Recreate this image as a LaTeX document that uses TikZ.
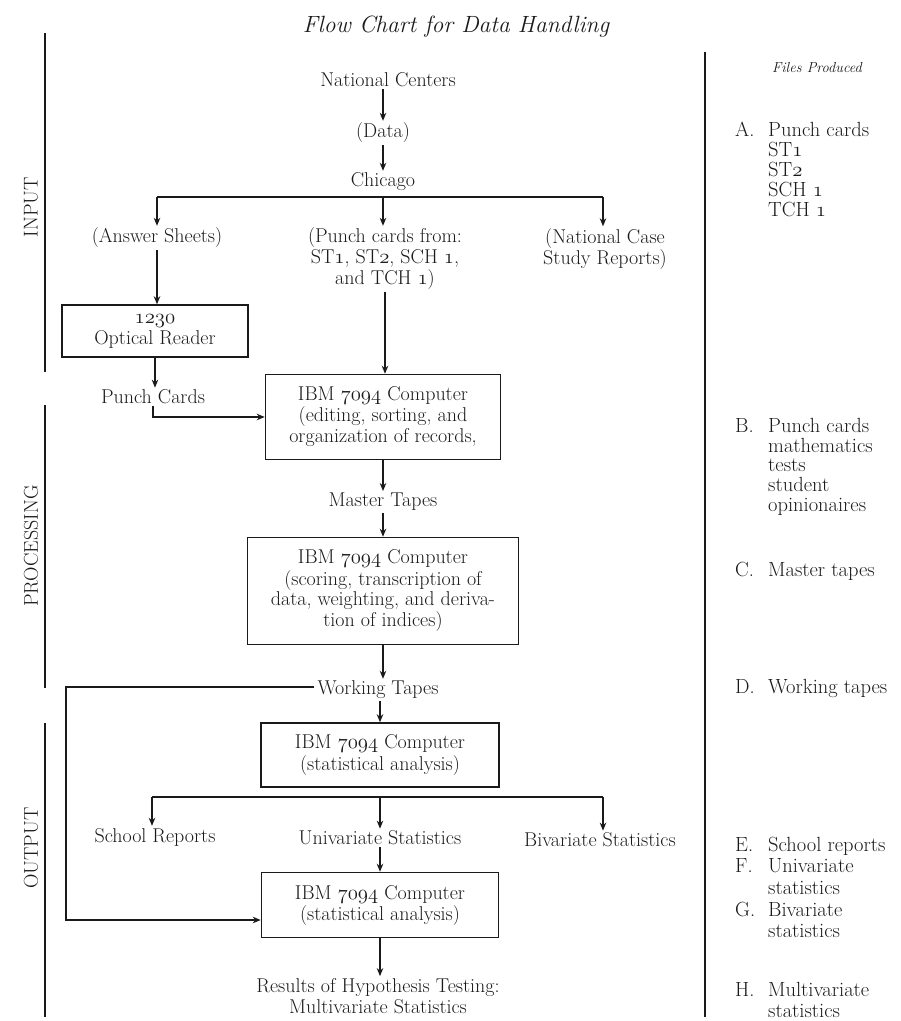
\documentclass[tikz,border=0pt]{standalone}
\usetikzlibrary{arrows.meta}
\definecolor{ink}{HTML}{1A1A1A}
\newcommand\osn[1]{$\mathnormal{#1}$}
\begin{document}
\begin{tikzpicture}[x=1pt,y=-1pt,
  every node/.style={text=ink},
  txt/.style={font=\fontsize{20}{21}\selectfont, align=center, inner sep=2pt},
  boxn/.style={txt, draw=ink, line width=1.5pt, inner sep=0pt},
  arr/.style={draw=ink, line width=1.2pt, -{Stealth[length=8pt,width=6.5pt,inset=2.5pt]}},
  rule/.style={draw=ink, line width=1.6pt},
  sidelbl/.style={font=\fontsize{20}{21}\selectfont, rotate=90, inner sep=0pt},
  files/.style={anchor=base west, inner sep=0pt}
]
\useasboundingbox (0,0) rectangle (901,1021);

% title and headings
\node[font=\itshape\fontsize{23.5}{25}\selectfont] (title) at (456,27) {Flow Chart for Data Handling};
\node[font=\itshape\fontsize{14.5}{16}\selectfont] (fp) at (817,68) {Files Produced};

% side rules and labels
\draw[rule] (45,33) -- (45,372);
\draw[rule] (45,405) -- (45,688);
\draw[rule] (45,723) -- (45,1017);
\draw[rule] (705,52) -- (705,1017);
\node[sidelbl] (inp) at (31,207) {INPUT};
\node[sidelbl] (proc) at (31,546) {PROCESSING};
\node[sidelbl] (outp) at (31,848) {OUTPUT};

% right column
\node[files, font=\fontsize{20.5}{19.5}\selectfont] (fa) at (735,136) {\begin{tabular}[t]{@{}p{33pt}@{}l@{}}A. & Punch cards\\ & ST\osn{1}\\ & ST\osn{2}\\ & SCH \osn{1}\\ & TCH \osn{1}\end{tabular}};
\node[files, font=\fontsize{20.5}{19.5}\selectfont] (fb) at (735,432) {\begin{tabular}[t]{@{}p{33pt}@{}l@{}}B. & Punch cards\\ & mathematics\\ & tests\\ & student\\ & opinionaires\end{tabular}};
\node[files, font=\fontsize{20.5}{20}\selectfont] (fc) at (735,576) {\begin{tabular}[t]{@{}p{33pt}@{}l@{}}C. & Master tapes\end{tabular}};
\node[files, font=\fontsize{20.5}{20}\selectfont] (fd) at (735,693) {\begin{tabular}[t]{@{}p{33pt}@{}l@{}}D. & Working tapes\end{tabular}};
\node[files, font=\fontsize{20.5}{21.7}\selectfont] (fe) at (735,851) {\begin{tabular}[t]{@{}p{33pt}@{}l@{}}E. & School reports\\ F. & Univariate\\ & statistics\\ G. & Bivariate\\ & statistics\end{tabular}};
\node[files, font=\fontsize{20.5}{21}\selectfont] (fh) at (735,996) {\begin{tabular}[t]{@{}p{33pt}@{}l@{}}H. & Multivariate\\ & statistics\end{tabular}};

% flow nodes
\node[txt] (nc) at (388,80) {National Centers};
\node[txt] (data) at (383,133) {(Data)};
\node[txt] (chi) at (383,182) {Chicago};
\coordinate (brL) at (157,197);
\coordinate (brM) at (383,197);
\coordinate (brR) at (603,197);
\node[txt] (ans) at (157,238) {(Answer Sheets)};
\node[txt] (pcf) at (385,259) {(Punch cards from:\\ ST\osn{1}, ST\osn{2}, SCH \osn{1},\\ and TCH \osn{1})};
\node[txt] (ncs) at (605,249) {(National Case\\ Study Reports)};
\node[boxn, minimum width=186pt, minimum height=52pt] (opt) at (155,331) {\osn{1230}\\ Optical Reader};
\node[txt] (pc) at (153,397) {Punch Cards};
\node[boxn, minimum width=235pt, minimum height=85pt] (cmp1) at (383,417) {IBM \osn{7094} Computer\\ (editing, sorting, and\\ organization of records,};
\node[txt] (mt) at (383,502) {Master Tapes};
\node[boxn, minimum width=271pt, minimum height=107pt] (cmp2) at (383,591) {IBM \osn{7094} Computer\\ (scoring, transcription of\\ data, weighting, and deriva-\\ tion of indices)};
\node[txt] (wt) at (378,690) {Working Tapes};
\node[boxn, minimum width=238pt, minimum height=64pt] (cmp3) at (380,755) {IBM \osn{7094} Computer\\ (statistical analysis)};
\coordinate (brbL) at (152,797);
\coordinate (brbM) at (380,797);
\coordinate (brbR) at (603,797);
\node[txt] (sr) at (155,837) {School Reports};
\node[txt] (us) at (380,838) {Univariate Statistics};
\node[txt] (bs) at (600,840) {Bivariate Statistics};
\node[boxn, minimum width=237pt, minimum height=65pt] (cmp4) at (380,905) {IBM \osn{7094} Computer\\ (statistical analysis)};
\node[txt] (res) at (378,996) {Results of Hypothesis Testing:\\ Multivariate Statistics};
\coordinate (lpB) at (66,920);

% connectors
\draw[arr] (data.north |- nc.south) -- (data.north);
\draw[arr] (data) -- (chi);
\draw[rule, line width=1.2pt] (brL) -- (brR);
\draw[arr] (brL) -- (brL |- ans.north);
\draw[arr] (brM) -- (brM |- pcf.north);
\draw[arr] (brR) -- (brR |- ncs.north);
\draw[arr] (ans.south) -- (ans.south |- opt.north);
\draw[arr] (opt.south) -- (opt.south |- pc.north);
\draw[arr] (pc.south) |- (cmp1.west);
\draw[arr] (pcf.south) -- (pcf.south |- cmp1.north);
\draw[arr] (cmp1) -- (mt);
\draw[arr] (mt) -- (cmp2);
\draw[arr] (cmp2.south) -- (cmp2.south |- wt.north);
\draw[arr] (cmp3.north |- wt.south) -- (cmp3.north);
\draw[arr] ([yshift=3pt,xshift=-1pt]wt.west) -| (lpB) -- (lpB -| cmp4.west);
\draw[rule, line width=1.2pt] (brbL) -- (brbR);
\draw[arr] (brbL) -- (brbL |- sr.north);
\draw[arr] (brbM) -- (brbM |- us.north);
\draw[arr] (brbR) -- (brbR |- bs.north);
\draw[arr] (us.south) -- (us.south |- cmp4.north);
\draw[arr] (cmp4.south) -- (cmp4.south |- res.north);
\end{tikzpicture}
\end{document}
